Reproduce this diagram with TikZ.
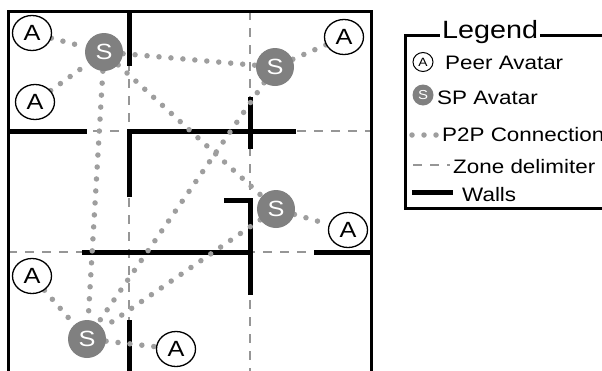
\documentclass[tikz,border=0pt]{standalone}
\usepackage{fontspec}
\setmainfont{Liberation Sans}
\usetikzlibrary{shapes.geometric}
\definecolor{spc}{RGB}{128,128,128}
\definecolor{dotc}{RGB}{158,158,158}
\definecolor{zonec}{RGB}{150,150,150}
\newcommand{\wtext}[1]{\scalebox{1.15}[1]{#1}}
\pgfdeclarelayer{bglayer}
\pgfdeclarelayer{midlayer}
\pgfsetlayers{bglayer,midlayer,main}
\begin{document}
\begin{tikzpicture}[x=1pt,y=-1pt,
  wall/.style={line width=5pt},
  zone/.style={draw=zonec, line width=1.3pt, dash pattern=on 9pt off 8pt},
  p2p/.style={draw=dotc, line width=5.5pt, line cap=round, dash pattern=on 0pt off 12pt},
  peer/.style={ellipse, draw, line width=1.3pt, fill=white, minimum width=39pt, minimum height=35pt, inner sep=0pt, font=\fontsize{22}{22}\selectfont},
  sp/.style={circle, fill=spc, text=white, minimum size=38pt, inner sep=0pt, font=\fontsize{22}{22}\selectfont},
  legtext/.style={anchor=base west, inner sep=0pt, font=\fontsize{19.5}{20}\selectfont}]
\useasboundingbox (0,0) rectangle (602,370);
\begin{pgfonlayer}{bglayer}
% zone delimiters
\draw[zone] (129,11) -- (129,372);
\draw[zone] (250,11) -- (250,372);
\draw[zone] (8,131) -- (371,131);
\draw[zone] (8,252) -- (371,252);
% walls
\draw[wall] (129,11) -- (129,66);
\draw[wall] (8,131) -- (87,131);
\draw[wall] (129,197) -- (129,131) -- (296,131);
\draw[wall] (250,97) -- (250,149);
\draw[wall] (82,252) -- (250,252);
\draw[wall] (224,200) -- (250,200) -- (250,295);
\draw[wall] (314,252) -- (371,252);
\draw[wall] (129,320) -- (129,375);
% outer box
\draw[line width=3pt] (8,380) -- (8,11) -- (371,11) -- (371,380);
\end{pgfonlayer}
% avatars
\node[peer] (a1) at (32,33) {\wtext{A}};
\node[peer] (a2) at (35,102) {\wtext{A}};
\node[peer] (a3) at (344,37) {\wtext{A}};
\node[peer] (a4) at (348,230) {\wtext{A}};
\node[peer] (a5) at (32,276) {\wtext{A}};
\node[peer] (a6) at (176,349) {\wtext{A}};
\node[sp] (s1) at (104,52) {\wtext{S}};
\node[sp] (s2) at (275,67) {\wtext{S}};
\node[sp] (s3) at (276,209) {\wtext{S}};
\node[sp] (s4) at (87,339) {\wtext{S}};
% connections
\begin{pgfonlayer}{midlayer}
\draw[p2p] (a1) -- (s1);
\draw[p2p] (a2) -- (s1);
\draw[p2p] (s1) -- (s2);
\draw[p2p] (a3) -- (s2);
\draw[p2p] (s1) -- (s3);
\draw[p2p] (s1) -- (s4);
\draw[p2p] (s2) -- (s4);
\draw[p2p] (s3) -- (s4);
\draw[p2p] (s3) -- (a4);
\draw[p2p] (a5) -- (s4);
\draw[p2p] (s4) -- (a6);
\end{pgfonlayer}
% legend
\draw[line width=3pt] (615,35) -- (405,35) -- (405,208) -- (615,208);
\node[fill=white, inner xsep=2pt, inner ysep=0pt, anchor=base west, font=\fontsize{25}{25}\selectfont] (legtitle) at (440,38) {\wtext{Legend}};
\node[ellipse, draw, line width=1pt, minimum width=20pt, minimum height=19pt, inner sep=0pt, font=\fontsize{12}{12}\selectfont] (la) at (423,62) {\wtext{A}};
\node[legtext] (lat) at (445,69) {\wtext{Peer Avatar}};
\node[circle, fill=spc, text=white, minimum size=21pt, inner sep=0pt, font=\fontsize{13}{13}\selectfont] (ls) at (423,95) {\wtext{S}};
\node[legtext] (lst) at (437,104) {\wtext{SP Avatar}};
\coordinate (lp1) at (412,135);
\coordinate (lp2) at (437,135);
\draw[p2p] (lp1) -- (lp2);
\node[legtext] (lpt) at (442,141) {\wtext{P2P Connection}};
\coordinate (lz1) at (413,165);
\coordinate (lz2) at (450,165);
\draw[zone] (lz1) -- (lz2);
\node[legtext] (lzt) at (453,173) {\wtext{Zone delimiter}};
\coordinate (lw1) at (412,192);
\coordinate (lw2) at (453,192);
\draw[wall] (lw1) -- (lw2);
\node[legtext] (lwt) at (462,201) {\wtext{Walls}};
\end{tikzpicture}
\end{document}
